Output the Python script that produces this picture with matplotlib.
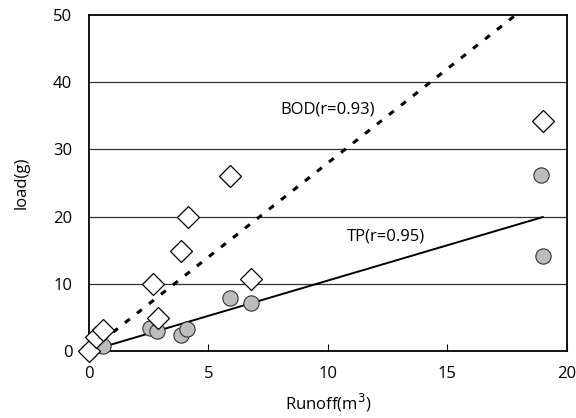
import numpy as np
import matplotlib.pyplot as plt

plt.rcParams['font.family'] = ['Open Sans', 'DejaVu Sans']

# BOD load vs runoff (diamonds)
bod_x = [0.0, 0.3, 0.6, 2.7, 2.9, 3.85, 4.15, 5.9, 6.8, 19.0]
bod_y = [0.0, 2.1, 3.1, 10.0, 4.9, 14.9, 20.0, 26.0, 10.7, 34.2]

# TP load vs runoff (circles)
tp_x = [0.0, 0.6, 2.55, 2.85, 3.85, 4.1, 5.9, 6.8, 18.9, 19.0]
tp_y = [0.0, 0.7, 3.4, 3.0, 2.4, 3.3, 7.9, 7.1, 26.2, 14.1]

# regression lines through origin (slopes)
bod_slope = 2.80
tp_slope = 1.05
line_x = np.array([0, 19])

fig = plt.figure(figsize=(5.76, 4.18), dpi=100)
ax = fig.add_axes([0.1545, 0.160, 0.8295, 0.804])

for yv in [10, 20, 30, 40]:
    ax.axhline(yv, color='#333333', lw=0.9, zorder=1)

ax.plot(line_x, tp_slope * line_x, color='black', lw=1.4, zorder=2,
        clip_on=False)
ax.plot(line_x, bod_slope * line_x, color='black', lw=2.2,
        dashes=(2, 3), zorder=2)

ax.plot(tp_x, tp_y, 'o', ms=11, mfc='#bdbdbd', mec='#333333', mew=0.8,
        ls='none', zorder=3, clip_on=False)
ax.plot(bod_x, bod_y, 'D', ms=11, mfc='white', mec='black', mew=0.9,
        ls='none', zorder=4, clip_on=False)

ax.text(8.0, 35.4, 'BOD(r=0.93)', fontsize=12, va='baseline')
ax.text(10.8, 16.5, 'TP(r=0.95)', fontsize=12, va='baseline')

ax.set_xlim(0, 20)
ax.set_ylim(0, 50)
ax.set_xticks([0, 5, 10, 15, 20])
ax.set_yticks([0, 10, 20, 30, 40, 50])
ax.tick_params(axis='x', direction='in', length=5, labelsize=12, pad=11)
ax.tick_params(axis='y', length=0, labelsize=12, pad=12)
for s in ax.spines.values():
    s.set_linewidth(1.3)
    s.set_color('black')

ax.set_xlabel('Runoff(m$^3$)', fontsize=12, labelpad=7)
ax.set_ylabel('load(g)', fontsize=12, labelpad=17)

fig.savefig('out.png', dpi=100)
